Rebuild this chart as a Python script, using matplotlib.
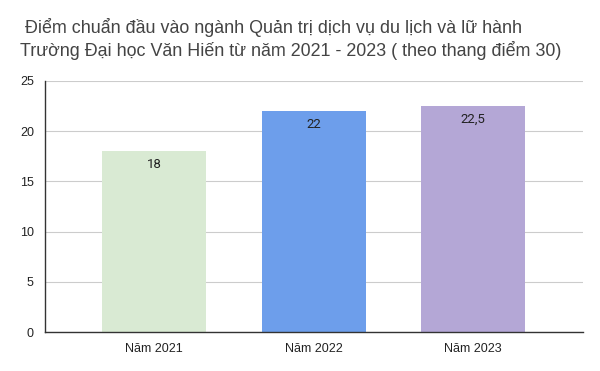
import matplotlib
matplotlib.use("Agg")
import matplotlib.pyplot as plt

categories = ["Năm 2021", "Năm 2022", "Năm 2023"]
values = [18, 22, 22.5]
labels = ["18", "22", "22,5"]
colors = ["#d9ead3", "#6d9eeb", "#b4a7d6"]
yticks = [0, 5, 10, 15, 20, 25]

plt.rcParams['font.family'] = ['Liberation Sans', 'DejaVu Sans']

fig = plt.figure(figsize=(6, 3.71), dpi=100)
ax = fig.add_axes([0.075, 0.105, 0.897, 0.677])
x = list(range(len(categories)))
ax.bar(x, values, width=0.65, color=colors, zorder=2)
for xi, v, lab in zip(x, values, labels):
    ax.annotate(lab, (xi, v), xytext=(0, -5), textcoords="offset points",
                ha="center", va="top", fontsize=9.5, color="#222222", family="Roboto")
ax.set_xlim(-0.685, 2.69)
ax.set_ylim(0, 25)
ax.set_yticks(yticks)
ax.set_xticks(x)
ax.set_xticklabels(categories)
ax.tick_params(axis="both", length=0, labelsize=9, colors="#222222")
ax.tick_params(axis="x", pad=8)
ax.tick_params(axis="y", pad=8)
ax.grid(axis="y", color="#cccccc", linewidth=0.8, zorder=0)
for s in ["top", "right"]:
    ax.spines[s].set_visible(False)
for s in ["left", "bottom"]:
    ax.spines[s].set_color("#333333")
    ax.spines[s].set_linewidth(1)
fig.text(0.033, 0.952, " Điểm chuẩn đầu vào ngành Quản trị dịch vụ du lịch và lữ hành\nTrường Đại học Văn Hiến từ năm 2021 - 2023 ( theo thang điểm 30)",
         ha="left", va="top", fontsize=12.9, color="#444444", linespacing=1.28)
fig.savefig("out.png", dpi=100)
